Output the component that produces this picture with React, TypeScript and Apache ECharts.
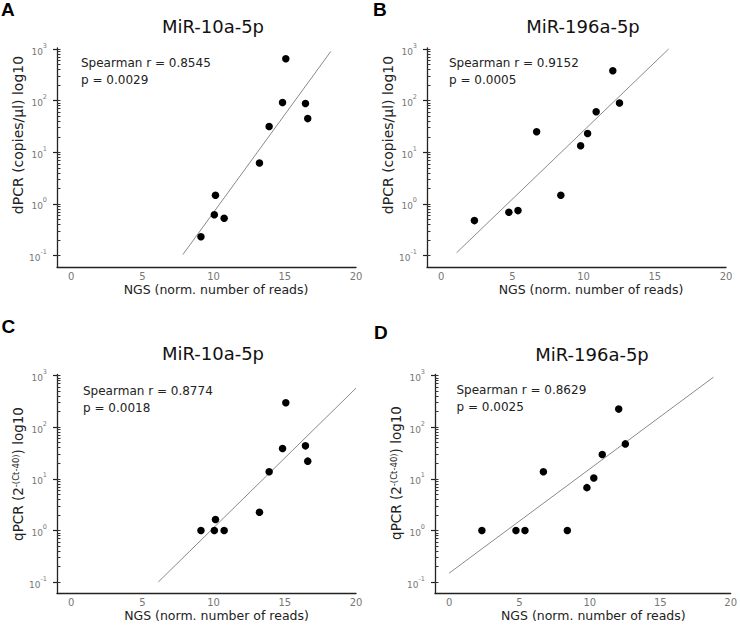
import React, { useEffect, useRef } from 'react';
import * as echarts from 'echarts';

// ---------- data ----------
const panelLetters = ['A', 'B', 'C', 'D'];
const panelTitles = ['MiR-10a-5p', 'MiR-196a-5p', 'MiR-10a-5p', 'MiR-196a-5p'];
const yAxisNames = [
  'dPCR (copies/µl) log10',
  'dPCR (copies/µl) log10',
  'qPCR (2{s|-(Ct-40)}) log10',
  'qPCR (2{s|-(Ct-40)}) log10',
];
const xAxisName = 'NGS (norm. number of reads)';
const xTickLabels = [0, 5, 10, 15, 20];
const yTickLabels = [0.1, 1, 10, 100, 1000];
const yMinorTicks = [
  0.2, 0.3, 0.4, 0.5, 0.6, 0.7, 0.8, 0.9,
  2, 3, 4, 5, 6, 7, 8, 9,
  20, 30, 40, 50, 60, 70, 80, 90,
  200, 300, 400, 500, 600, 700, 800, 900,
];

// MiR-10a-5p
const ngsMir10a = [15.07, 14.84, 16.45, 16.61, 13.9, 13.22, 10.13, 10.05, 10.74, 9.11];
const dpcrMir10a = [650, 92, 88, 45, 31.6, 6.2, 1.48, 0.62, 0.53, 0.233];
const qpcrMir10a = [298, 38.6, 43.5, 22, 13.7, 2.26, 1.63, 1.0, 1.0, 1.0];
// MiR-196a-5p
const ngsMir196a = [12.05, 12.52, 10.88, 6.7, 10.28, 9.79, 8.4, 5.39, 4.75, 2.33];
const dpcrMir196a = [380, 90, 61, 25, 23.2, 13.4, 1.48, 0.745, 0.69, 0.477];
const qpcrMir196a = [224, 47.5, 29.6, 13.7, 10.4, 6.76, 1.0, 1.0, 1.0, 1.0];

// regression lines (end points)
const fitDpcrMir10aX = [7.84, 18.23];
const fitDpcrMir10aY = [0.105, 900];
const fitDpcrMir196aX = [1.08, 15.97];
const fitDpcrMir196aY = [0.114, 1000];
const fitQpcrMir10aX = [6.12, 20.0];
const fitQpcrMir10aY = [0.101, 570];
const fitQpcrMir196aX = [0, 18.78];
const fitQpcrMir196aY = [0.149, 929];

const spearmanR = ['0.8545', '0.9152', '0.8774', '0.8629'];
const pValues = ['0.0029', '0.0005', '0.0018', '0.0025'];

// ---------- layout ----------
const FONT = 'DejaVu Sans';
const Y_MIN = 0.0603;
const Y_MAX = 1047;
const X_MIN = -1;
const X_MAX = 20;

const grids = [
  { left: 57, top: 48, width: 299, height: 219 },
  { left: 427, top: 48, width: 299, height: 219 },
  { left: 57, top: 374.5, width: 299, height: 219 },
  { left: 435, top: 374.5, width: 299, height: 219 },
];
const xNamePad = [19, 29, 20, 21];
const yNameSize = [14, 14, 13.5, 13.5];
const yNamePad = [45, 45, 20, 22];
const letterPos = [
  [1, 9],
  [373, 9.5],
  [1.5, 326.5],
  [374, 332.5],
];
const titlePos = [
  [213, 26],
  [583, 26],
  [213, 353],
  [592, 354.5],
];
const statsPos = [
  [81, 55],
  [449, 55],
  [83, 383],
  [456.5, 382],
];

export default function App() {
  const ref = useRef<HTMLDivElement>(null);

  useEffect(() => {
    if (!ref.current) return;
    const chart = echarts.init(ref.current, null, { renderer: 'svg' });

    const panels = [
      { x: ngsMir10a, y: dpcrMir10a, fx: fitDpcrMir10aX, fy: fitDpcrMir10aY },
      { x: ngsMir196a, y: dpcrMir196a, fx: fitDpcrMir196aX, fy: fitDpcrMir196aY },
      { x: ngsMir10a, y: qpcrMir10a, fx: fitQpcrMir10aX, fy: fitQpcrMir10aY },
      { x: ngsMir196a, y: qpcrMir196a, fx: fitQpcrMir196aX, fy: fitQpcrMir196aY },
    ];

    const xAxes: any[] = [];
    const yAxes: any[] = [];
    const series: any[] = [];
    const graphic: any[] = [];

    panels.forEach((p, i) => {
      xAxes.push({
        type: 'value',
        gridIndex: i,
        min: X_MIN,
        max: X_MAX,
        name: xAxisName,
        nameLocation: 'middle',
        nameGap: 15.5,
        nameTextStyle: {
          fontSize: 12.5,
          color: '#222',
          fontFamily: FONT,
          padding: [0, 0, 0, xNamePad[i]],
        },
        axisLine: { show: true, onZero: false, lineStyle: { color: '#222', width: 1.3 } },
        axisTick: { show: false },
        splitLine: { show: false },
        axisLabel: {
          customValues: xTickLabels,
          fontSize: 10,
          color: '#777',
          margin: 4,
          fontFamily: FONT,
        },
      });
      // main log axis: line, labels, outer part of the major ticks
      yAxes.push({
        type: 'log',
        logBase: 10,
        gridIndex: i,
        position: 'left',
        min: Y_MIN,
        max: Y_MAX,
        name: yAxisNames[i],
        nameLocation: 'middle',
        nameGap: 24,
        nameRotate: 90,
        nameTextStyle: {
          fontSize: yNameSize[i],
          color: '#222',
          fontFamily: FONT,
          padding: [0, 0, 0, yNamePad[i]],
          rich: {
            s: { fontSize: 8.5, color: '#222', fontFamily: FONT, verticalAlign: 'top', lineHeight: 9 },
          },
        },
        axisLine: { show: true, onZero: false, lineStyle: { color: '#222', width: 1.3 } },
        axisTick: {
          show: true,
          inside: false,
          length: 4,
          customValues: yTickLabels,
          lineStyle: { color: '#222', width: 1.2 },
        },
        axisLabel: {
          customValues: yTickLabels,
          margin: 10,
          formatter: (v: number) => `{b|10}{e|${Math.round(Math.log10(v))}}`,
          rich: {
            b: { fontSize: 9, color: '#777', fontFamily: FONT, lineHeight: 14, verticalAlign: 'bottom' },
            e: { fontSize: 6.5, color: '#777', fontFamily: FONT, lineHeight: 8, verticalAlign: 'top' },
          },
        },
        splitLine: { show: false },
      });
      // overlay log axis: inner ticks (major + log minor)
      yAxes.push({
        type: 'log',
        logBase: 10,
        gridIndex: i,
        position: 'left',
        offset: 0,
        min: Y_MIN,
        max: Y_MAX,
        axisLine: { show: false, onZero: false },
        axisTick: {
          show: true,
          inside: true,
          length: 3.5,
          customValues: [...yTickLabels, ...yMinorTicks],
          lineStyle: { color: '#333', width: 1 },
        },
        axisLabel: { show: false },
        splitLine: { show: false },
      });

      series.push({
        type: 'line',
        xAxisIndex: i,
        yAxisIndex: 2 * i,
        data: p.fx.map((x, j) => [x, p.fy[j]]),
        showSymbol: false,
        symbol: 'none',
        lineStyle: { color: '#8a8a8a', width: 1 },
        z: 2,
        silent: true,
      });
      series.push({
        type: 'scatter',
        xAxisIndex: i,
        yAxisIndex: 2 * i,
        data: p.x.map((x, j) => [x, p.y[j]]),
        symbolSize: 7.5,
        itemStyle: { color: '#000', opacity: 1 },
        z: 3,
      });

      graphic.push({
        type: 'text',
        x: letterPos[i][0],
        y: letterPos[i][1],
        style: {
          text: panelLetters[i],
          fontSize: 19,
          fontWeight: 'bold',
          fontFamily: 'Liberation Sans',
          fill: '#000',
          align: 'left',
          verticalAlign: 'middle',
        },
      });
      graphic.push({
        type: 'text',
        x: titlePos[i][0],
        y: titlePos[i][1],
        style: {
          text: panelTitles[i],
          fontSize: 18,
          fontFamily: FONT,
          fill: '#111',
          align: 'center',
          verticalAlign: 'middle',
        },
      });
      graphic.push({
        type: 'text',
        x: statsPos[i][0],
        y: statsPos[i][1],
        style: {
          text: `Spearman r = ${spearmanR[i]}\np = ${pValues[i]}`,
          fontSize: 12,
          lineHeight: 16.5,
          fontFamily: FONT,
          fill: '#222',
          align: 'left',
          verticalAlign: 'top',
        },
      });
    });

    chart.setOption({
      animation: false,
      backgroundColor: '#ffffff',
      textStyle: { fontFamily: FONT },
      grid: grids.map((g) => ({ ...g })),
      xAxis: xAxes,
      yAxis: yAxes,
      series,
      graphic,
    });

    return () => {
      chart.dispose();
    };
  }, []);

  return (
    <div
      ref={ref}
      style={{ position: 'absolute', left: 0, top: 0, width: 740, height: 625, background: '#fff' }}
    />
  );
}
